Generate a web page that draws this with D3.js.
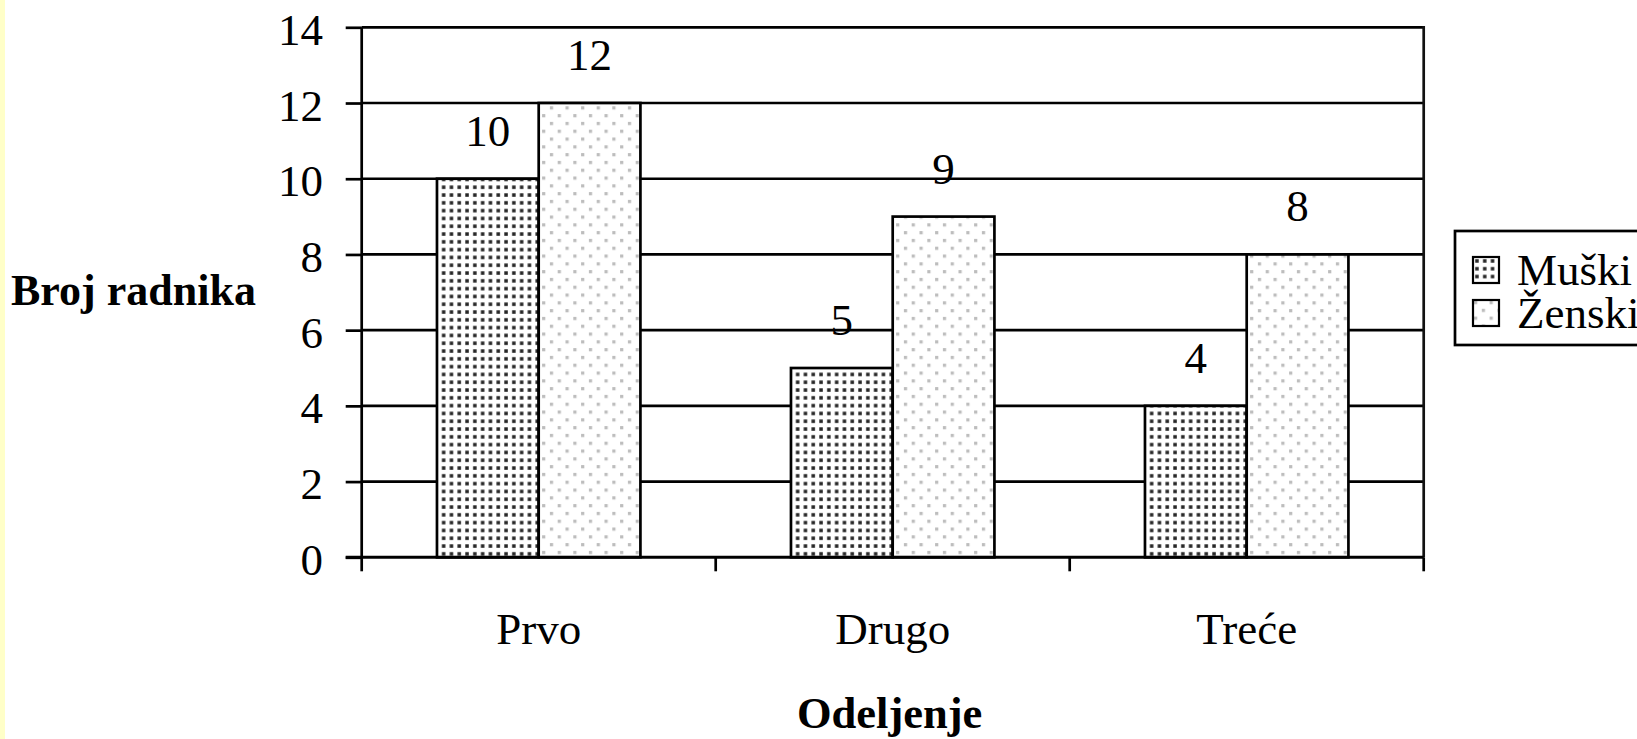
<!DOCTYPE html>
<html>
<head>
<meta charset="utf-8">
<script src="https://cdn.jsdelivr.net/npm/d3@7"></script>
<style>
  html, body { margin: 0; padding: 0; background: #fff; overflow: hidden; }
  svg text { font-family: "Liberation Serif", "Times New Roman", serif; fill: #000; }
</style>
</head>
<body>
<svg id="chart" width="1637" height="739"></svg>
<script>
// Number of workers per department, split by gender
const categories = ["Prvo", "Drugo", "Treće"];
const series = ["Muški", "Ženski"];
const muski = [10, 5, 4];
const zenski = [12, 9, 8];
const yTicks = [0, 2, 4, 6, 8, 10, 12, 14];
const yTitle = "Broj radnika";
const xTitle = "Odeljenje";

const W = 1637, H = 739;
const margin = { top: 27.3, right: 213.3, bottom: 181.7, left: 361.7 };
const iw = W - margin.left - margin.right;
const ih = H - margin.top - margin.bottom;
const fontSize = 45;
const lw = 2.7;

const svg = d3.select("#chart");

// pale strip along the left edge of the slide
svg.append("rect").attr("x", 0).attr("y", 0).attr("width", 5).attr("height", H).attr("fill", "#ffffc8");

// fill patterns: dense dark dots and sparse staggered light dots
const defs = svg.append("defs");
const pm = defs.append("pattern").attr("id", "pat-m").attr("patternUnits", "userSpaceOnUse")
  .attr("width", 7.8).attr("height", 7.8);
pm.append("rect").attr("width", 7.8).attr("height", 7.8).attr("fill", "#fff");
pm.append("rect").attr("x", 2.2).attr("y", 2.2).attr("width", 3.5).attr("height", 3.5).attr("fill", "#262626");

const pz = defs.append("pattern").attr("id", "pat-z").attr("patternUnits", "userSpaceOnUse")
  .attr("width", 15.6).attr("height", 15.6);
pz.append("rect").attr("width", 15.6).attr("height", 15.6).attr("fill", "#fff");
pz.append("rect").attr("x", 1).attr("y", 1).attr("width", 3.2).attr("height", 3.2).attr("fill", "#bdbdbd");
pz.append("rect").attr("x", 8.8).attr("y", 8.8).attr("width", 3.2).attr("height", 3.2).attr("fill", "#bdbdbd");

const fills = { "Muški": "url(#pat-m)", "Ženski": "url(#pat-z)" };

const g = svg.append("g").attr("transform", `translate(${margin.left},${margin.top})`);

const x = d3.scaleBand().domain(categories).range([0, iw]).padding(0);
const xs = d3.scaleBand().domain(series).range([0, x.bandwidth()]).paddingInner(0).paddingOuter(0.74);
const y = d3.scaleLinear().domain([0, 14]).range([ih, 0]);

const data = categories.map((c, i) => ({ cat: c, values: [
  { s: "Muški", v: muski[i] }, { s: "Ženski", v: zenski[i] }
]}));

// horizontal gridlines
g.append("g").selectAll("line").data(yTicks.filter(t => t > 0)).join("line")
  .attr("x1", 0).attr("x2", iw)
  .attr("y1", d => y(d)).attr("y2", d => y(d))
  .attr("stroke", "#000").attr("stroke-width", lw);

// right border of the plot area
g.append("line").attr("x1", iw).attr("x2", iw).attr("y1", -lw / 2).attr("y2", ih)
  .attr("stroke", "#111").attr("stroke-width", lw);

// bars
const groups = g.append("g").selectAll("g").data(data).join("g")
  .attr("transform", d => `translate(${x(d.cat)},0)`);
groups.selectAll("rect").data(d => d.values).join("rect")
  .attr("x", d => xs(d.s))
  .attr("y", d => y(d.v))
  .attr("width", xs.bandwidth())
  .attr("height", d => ih - y(d.v))
  .attr("fill", d => fills[d.s])
  .attr("stroke", "#000").attr("stroke-width", lw);

// value labels
groups.selectAll("text").data(d => d.values).join("text")
  .attr("x", d => xs(d.s) + xs.bandwidth() / 2)
  .attr("y", d => y(d.v) - 33)
  .attr("text-anchor", "middle")
  .attr("font-size", fontSize)
  .text(d => d.v);

// y axis
const yAxis = g.append("g").call(d3.axisLeft(y).tickValues(yTicks).tickSize(16).tickPadding(22.7).tickFormat(d3.format("d")));
yAxis.select(".domain").attr("stroke", "#000").attr("stroke-width", lw).attr("d", `M0,${ih}V0`);
yAxis.selectAll(".tick line").attr("stroke", "#000").attr("stroke-width", lw);
yAxis.selectAll(".tick text").attr("font-size", fontSize).attr("dy", "0.38em")
  .attr("font-family", "Liberation Serif, Times New Roman, serif").attr("fill", "#000");

// x axis: ticks at category boundaries
const xg = g.append("g").attr("transform", `translate(0,${ih})`);
xg.append("line").attr("x1", -16).attr("x2", iw).attr("y1", 0).attr("y2", 0)
  .attr("stroke", "#000").attr("stroke-width", lw + 0.3);
const bounds = categories.map(c => x(c)).concat([iw]);
xg.selectAll("line.tk").data(bounds).join("line").attr("class", "tk")
  .attr("x1", d => d).attr("x2", d => d).attr("y1", 0).attr("y2", 14)
  .attr("stroke", "#000").attr("stroke-width", lw);
xg.selectAll("text").data(categories).join("text")
  .attr("x", d => x(d) + x.bandwidth() / 2)
  .attr("y", 644 - margin.top - ih)
  .attr("text-anchor", "middle")
  .attr("font-size", fontSize)
  .text(d => d);

// axis titles
svg.append("text").attr("x", 11).attr("y", 305)
  .attr("font-size", 44).attr("font-weight", "bold").text(yTitle);
svg.append("text").attr("x", margin.left + iw / 2 - 3).attr("y", 728)
  .attr("text-anchor", "middle").attr("font-size", 44.5).attr("font-weight", "bold").text(xTitle);

// legend
const lg = svg.append("g").attr("transform", "translate(1455,231)");
lg.append("rect").attr("x", 0).attr("y", 0).attr("width", 200).attr("height", 114)
  .attr("fill", "#fff").attr("stroke", "#000").attr("stroke-width", lw);
series.forEach((s, i) => {
  const row = lg.append("g").attr("transform", `translate(18,${26 + i * 43})`);
  row.append("rect").attr("width", 26).attr("height", 26)
    .attr("fill", fills[s]).attr("stroke", "#000").attr("stroke-width", 2.2);
  row.append("text").attr("x", 44).attr("y", 28).attr("font-size", fontSize).text(s);
});
</script>
</body>
</html>
